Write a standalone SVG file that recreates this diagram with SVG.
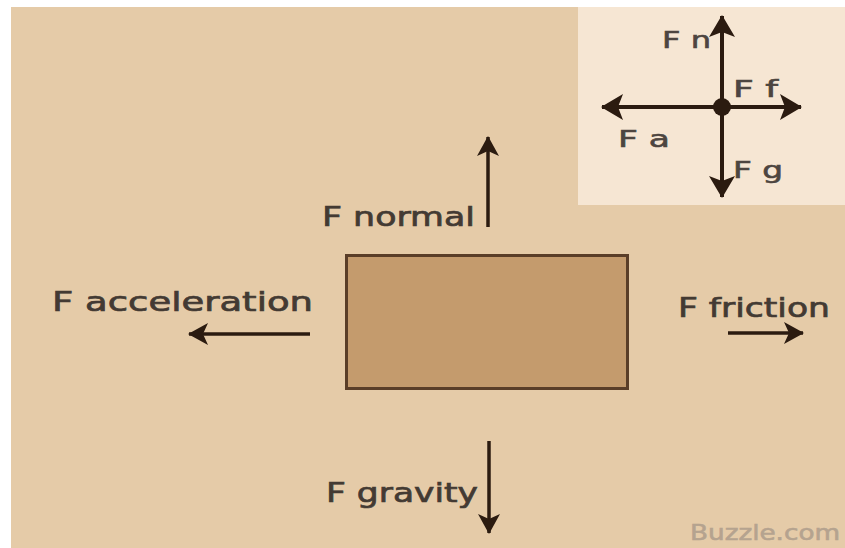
<svg xmlns="http://www.w3.org/2000/svg" width="845" height="548" viewBox="0 0 845 548">
  <defs>
    <style>
      .lbl { font-family: "DejaVu Sans", "Liberation Sans", sans-serif; font-size: 27px; fill: #433a33; stroke: #433a33; stroke-width: 0.7px; }
      .small { font-family: "DejaVu Sans", "Liberation Sans", sans-serif; font-size: 23px; fill: #4d4540; stroke: #4d4540; stroke-width: 0.6px; }
      .arrow { stroke: #2b1b10; stroke-width: 3.5; fill: none; }
      .cross { stroke: #2b1b10; stroke-width: 4; fill: none; }
      .wm { font-family: "DejaVu Sans", "Liberation Sans", sans-serif; font-size: 21px; fill: #b5a38f; stroke: #b5a38f; stroke-width: 0.6px; }
    </style>
    <marker id="head" markerUnits="userSpaceOnUse" markerWidth="20" markerHeight="22" refX="19" refY="11" orient="auto" viewBox="0 0 20 22">
      <path d="M0,0 L20,11 L0,22 L5,11 Z" fill="#2b1b10"/>
    </marker>
    <marker id="headS" markerUnits="userSpaceOnUse" markerWidth="22" markerHeight="26" refX="21" refY="13" orient="auto" viewBox="0 0 22 26">
      <path d="M0,0 L22,13 L0,26 L5,13 Z" fill="#2b1b10"/>
    </marker>
  </defs>

  <rect x="0" y="0" width="845" height="548" fill="#ffffff"/>
  <rect x="11" y="7" width="834" height="541" fill="#e5cba8"/>

  <g id="inset">
    <rect x="578" y="7" width="267" height="198" fill="#f6e6d3"/>
    <g id="inset-connectors">
      <line class="cross" x1="722" y1="107" x2="722" y2="16" marker-end="url(#headS)"/>
      <line class="cross" x1="722" y1="107" x2="722" y2="197" marker-end="url(#headS)"/>
      <line class="cross" x1="722" y1="107" x2="602" y2="107" marker-end="url(#headS)"/>
      <line class="cross" x1="722" y1="107" x2="801" y2="107" marker-end="url(#headS)"/>
    </g>
    <circle cx="722" cy="107" r="9" fill="#2b1b10"/>
    <text class="small" x="662" y="48" textLength="49" lengthAdjust="spacingAndGlyphs">F n</text>
    <text class="small" x="733" y="97" textLength="45" lengthAdjust="spacingAndGlyphs">F f</text>
    <text class="small" x="618" y="147" textLength="52" lengthAdjust="spacingAndGlyphs">F a</text>
    <text class="small" x="733" y="178" textLength="50" lengthAdjust="spacingAndGlyphs">F g</text>
  </g>

  <g id="box">
    <rect x="346.5" y="255.5" width="281" height="133" fill="#c49b6d" stroke="#5a3e28" stroke-width="3"/>
  </g>

  <g id="connectors">
    <line class="arrow" x1="488" y1="227" x2="488" y2="137" marker-end="url(#head)"/>
    <line class="arrow" x1="310" y1="334" x2="189" y2="334" marker-end="url(#head)"/>
    <line class="arrow" x1="728" y1="333" x2="803" y2="333" marker-end="url(#head)"/>
    <line class="arrow" x1="489" y1="441" x2="489" y2="533" marker-end="url(#head)"/>
  </g>

  <g id="label-normal">
    <text class="lbl" x="322" y="226" textLength="153" lengthAdjust="spacingAndGlyphs">F normal</text>
  </g>
  <g id="label-acceleration">
    <text class="lbl" x="52" y="311" textLength="261" lengthAdjust="spacingAndGlyphs">F acceleration</text>
  </g>
  <g id="label-friction">
    <text class="lbl" x="678" y="317" textLength="152" lengthAdjust="spacingAndGlyphs">F friction</text>
  </g>
  <g id="label-gravity">
    <text class="lbl" x="326" y="502" textLength="152" lengthAdjust="spacingAndGlyphs">F gravity</text>
  </g>

  <text class="wm" x="690" y="540" textLength="150" lengthAdjust="spacingAndGlyphs">Buzzle.com</text>
</svg>
